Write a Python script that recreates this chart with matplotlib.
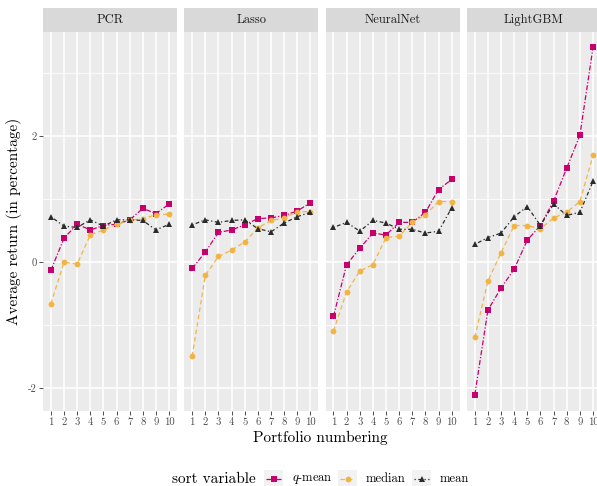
import matplotlib
matplotlib.use("Agg")
import matplotlib.pyplot as plt
from matplotlib.patches import Rectangle
import numpy as np

plt.rcParams["font.family"] = "serif"
plt.rcParams["font.serif"] = ["cmr10", "DejaVu Serif"]
plt.rcParams["mathtext.fontset"] = "cm"
plt.rcParams["axes.unicode_minus"] = False
plt.rcParams["axes.formatter.use_mathtext"] = True

models = ["PCR", "Lasso", "NeuralNet", "LightGBM"]
portfolios = list(range(1, 11))

qmean = {
    "PCR":       [-0.13, 0.38, 0.60, 0.51, 0.58, 0.60, 0.67, 0.85, 0.77, 0.92],
    "Lasso":     [-0.10, 0.16, 0.47, 0.51, 0.59, 0.69, 0.70, 0.74, 0.81, 0.94],
    "NeuralNet": [-0.86, -0.04, 0.22, 0.46, 0.43, 0.63, 0.63, 0.79, 1.15, 1.31],
    "LightGBM":  [-2.10, -0.76, -0.41, -0.11, 0.35, 0.58, 0.97, 1.49, 2.01, 3.40],
}
median = {
    "PCR":       [-0.66, 0.00, -0.03, 0.43, 0.51, 0.60, 0.66, 0.69, 0.75, 0.76],
    "Lasso":     [-1.49, -0.21, 0.09, 0.19, 0.32, 0.54, 0.66, 0.70, 0.80, 0.80],
    "NeuralNet": [-1.09, -0.47, -0.14, -0.04, 0.39, 0.41, 0.63, 0.75, 0.96, 0.96],
    "LightGBM":  [-1.19, -0.30, 0.15, 0.58, 0.58, 0.53, 0.70, 0.79, 0.96, 1.69],
}
mean = {
    "PCR":       [0.72, 0.57, 0.55, 0.67, 0.57, 0.67, 0.67, 0.66, 0.51, 0.60],
    "Lasso":     [0.59, 0.67, 0.63, 0.66, 0.67, 0.53, 0.48, 0.62, 0.72, 0.79],
    "NeuralNet": [0.55, 0.63, 0.49, 0.66, 0.62, 0.52, 0.52, 0.46, 0.49, 0.86],
    "LightGBM":  [0.28, 0.39, 0.46, 0.72, 0.88, 0.58, 0.92, 0.74, 0.79, 1.28],
}

series = [
    ("$q$-mean", qmean, "#C8006E", "s", (0, (4, 1.5, 1, 1.5)), 4.2),
    ("median", median, "#F2B544", "o", (0, (3.5, 2.5)), 4.2),
    ("mean", mean, "#2B2B2B", "^", (0, (1, 2, 3, 2)), 5.0),
]

W, H = 597, 486
fig = plt.figure(figsize=(W / 100, H / 100), dpi=100)

panel_left = 43.0
panel_w = 134.0
panel_gap = 7.3
panel_top = 31.7
panel_bottom = 410.5
strip_top = 8.0

def fx(px):
    return px / W

def fy(py):
    return 1 - py / H

grid_col = "white"
bg = "#EBEBEB"
tick_col = "#4D4D4D"

for i, m in enumerate(models):
    x0 = panel_left + i * (panel_w + panel_gap)
    ax = fig.add_axes([fx(x0), fy(panel_bottom), panel_w / W, (panel_bottom - panel_top) / H])
    ax.set_facecolor(bg)
    ax.set_xlim(0.4, 10.6)
    ax.set_ylim(-2.35, 3.65)
    for s in ax.spines.values():
        s.set_visible(False)
    for y in [-1, 1, 3]:
        ax.axhline(y, color=grid_col, lw=0.55, zorder=0)
    for y in [-2, 0, 2]:
        ax.axhline(y, color=grid_col, lw=1.1, zorder=0)
    for x in portfolios:
        ax.axvline(x, color=grid_col, lw=1.1, zorder=0)
    for label, d, col, mk, ls, ms in series:
        ax.plot(portfolios, d[m], color=col, marker=mk, markersize=ms, linestyle=ls,
                linewidth=0.9, markeredgewidth=0, zorder=3)
    ax.set_xticks(portfolios)
    ax.set_xticklabels([str(p) for p in portfolios])
    ax.set_yticks([-2, 0, 2])
    if i == 0:
        ax.set_yticklabels(["-2", "0", "2"])
    else:
        ax.set_yticklabels([])
    ax.tick_params(axis="both", colors="#333333", labelcolor=tick_col, labelsize=7.7,
                   length=2.7, width=0.6, pad=2)
    if i != 0:
        ax.tick_params(axis="y", length=0)
    sax = fig.add_axes([fx(x0), fy(panel_top), panel_w / W, (panel_top - strip_top) / H])
    sax.set_facecolor("#D9D9D9")
    sax.set_xticks([])
    sax.set_yticks([])
    for s in sax.spines.values():
        s.set_visible(False)
    sax.text(0.5, 0.5, m, ha="center", va="center", fontsize=9, color="#1A1A1A",
             transform=sax.transAxes)

fig.text(fx(320), fy(438), "Portfolio numbering", ha="center", va="center", fontsize=11)
fig.text(fx(14), fy(221), "Average return (in percentage)", ha="center", va="center",
         rotation=90, fontsize=11)

# legend drawn in figure pixel coordinates
lax = fig.add_axes([0, 0, 1, 1], facecolor="none")
lax.set_xlim(0, W)
lax.set_ylim(H, 0)
lax.axis("off")
ly = 479
lax.text(213.5, ly, "sort variable", ha="center", va="center", fontsize=11)
key_x = [264, 338, 412]
text_x = [292, 366, 440]
for (label, d, col, mk, ls, ms), kx, tx in zip(series, key_x, text_x):
    lax.add_patch(Rectangle((kx, ly - 9.5), 19, 19, facecolor="#F2F2F2", edgecolor="none"))
    lax.plot([kx + 2, kx + 17], [ly, ly], color=col, linestyle=ls, linewidth=0.9)
    lax.plot([kx + 9.5], [ly], color=col, marker=mk, markersize=ms, markeredgewidth=0)
    lax.text(tx, ly, label, ha="left", va="center", fontsize=9)

fig.savefig("out.png", dpi=100, facecolor="white")
